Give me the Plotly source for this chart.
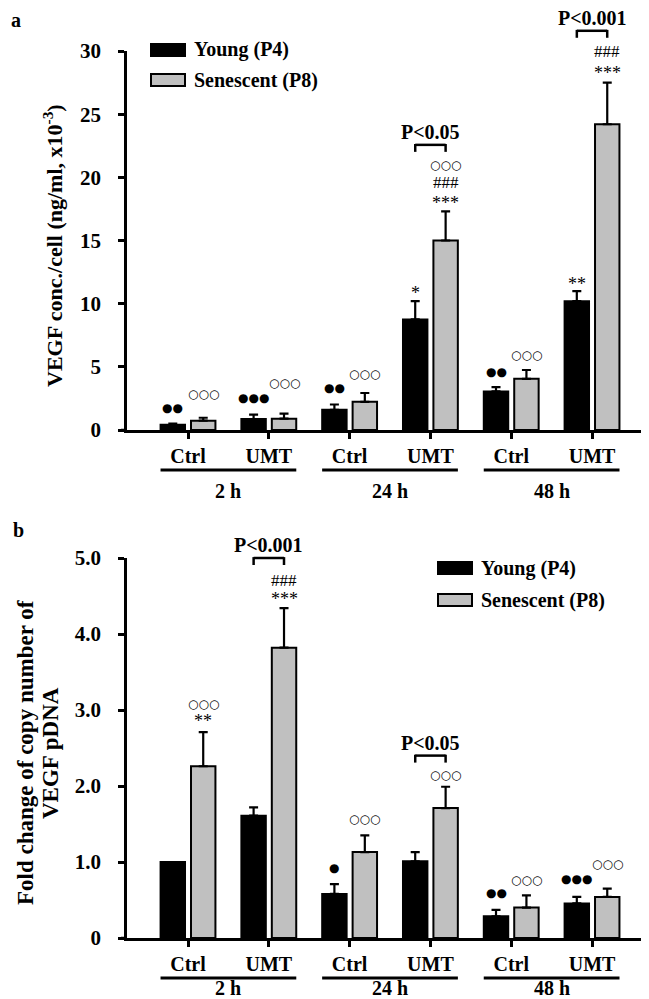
import plotly.graph_objects as go

# ---------------- data ----------------
categories = ["Ctrl", "UMT", "Ctrl", "UMT", "Ctrl", "UMT"]
time_groups = ["2 h", "24 h", "48 h"]
series_names = ["Young (P4)", "Senescent (P8)"]

vegf_young = [0.42, 0.87, 1.60, 8.75, 3.05, 10.2]
vegf_young_err = [0.08, 0.34, 0.42, 1.45, 0.35, 0.80]
vegf_sen = [0.74, 0.90, 2.23, 15.0, 4.05, 24.2]
vegf_sen_err = [0.23, 0.40, 0.70, 2.30, 0.70, 3.30]

pdna_young = [1.00, 1.61, 0.58, 1.01, 0.285, 0.455]
pdna_young_err = [0.0, 0.11, 0.13, 0.12, 0.085, 0.085]
pdna_sen = [2.26, 3.82, 1.13, 1.71, 0.40, 0.54]
pdna_sen_err = [0.45, 0.52, 0.22, 0.28, 0.16, 0.11]

# significance labels: (category index, series 0/1, text, y level in data units)
vegf_marks = [
    (0, 0, "●●", 1.77), (0, 1, "○○○", 2.82),
    (1, 0, "●●●", 2.50), (1, 1, "○○○", 3.69),
    (2, 0, "●●", 3.35), (2, 1, "○○○", 4.41),
    (3, 0, "*", 11.1), (3, 1, "***", 18.2), (3, 1, "###", 19.56), (3, 1, "○○○", 20.98),
    (4, 0, "●●", 4.59), (4, 1, "○○○", 5.91),
    (5, 0, "**", 11.8), (5, 1, "***", 28.5), (5, 1, "###", 29.93),
]
vegf_brackets = [(3, "P<0.05", 22.57), (5, "P<0.001", 31.6)]

pdna_marks = [
    (0, 1, "**", 2.89), (0, 1, "○○○", 3.08),
    (1, 1, "***", 4.50), (1, 1, "###", 4.70),
    (2, 0, "●", 0.92), (2, 1, "○○○", 1.56),
    (3, 1, "○○○", 2.15),
    (4, 0, "●●", 0.59), (4, 1, "○○○", 0.76),
    (5, 0, "●●●", 0.78), (5, 1, "○○○", 0.97),
]
pdna_brackets = [(1, "P<0.001", 5.0), (3, "P<0.05", 2.40)]

# ---------------- layout geometry ----------------
W, H = 649, 999
ML, MR, MT, MB = 119, 3, 43, 69
PW = W - ML - MR
PH = H - MT - MB
X_RANGE = [-0.755, 5.767]
TOP_Y0PX, BOT_Y1PX = 422, 550          # pixel rows of the top-panel baseline / bottom-panel top
TOP_DOM = [(H - MB - TOP_Y0PX) / PH, 1.0]
BOT_DOM = [0.0, (H - MB - BOT_Y1PX) / PH]
TOP_MAX, BOT_MAX = 30, 5

def px_x(px):
    return (px - ML) / PW

def px_y(py):
    return (H - MB - py) / PH

def cat_x(c):
    return (c - X_RANGE[0]) / (X_RANGE[1] - X_RANGE[0])

def val_y(v, dom, vmax):
    return dom[0] + (dom[1] - dom[0]) * v / vmax

BLACK = "#000000"
GRAY = "#c0c0c0"
FONT = "Liberation Serif"
OFF = 0.188   # bar centre offset from category centre (category units)

fig = go.Figure()
xs = list(range(len(categories)))

def add_bars(vals, errs, color, name, xa, ya):
    fig.add_trace(go.Bar(
        x=xs, y=vals, name=name, xaxis=xa, yaxis=ya, showlegend=False,
        marker=dict(color=color, line=dict(color=BLACK, width=2)),
        error_y=dict(type="data", array=errs, arrayminus=[0] * len(errs),
                     symmetric=False, color=BLACK, thickness=2.2, width=4.5),
    ))

add_bars(vegf_young, vegf_young_err, BLACK, series_names[0], "x", "y")
add_bars(vegf_sen, vegf_sen_err, GRAY, series_names[1], "x", "y")
add_bars(pdna_young, pdna_young_err, BLACK, series_names[0], "x2", "y2")
add_bars(pdna_sen, pdna_sen_err, GRAY, series_names[1], "x2", "y2")

axis_common = dict(showline=True, linecolor=BLACK, linewidth=2.5, ticks="outside",
                   tickcolor=BLACK, tickwidth=2.5, showgrid=False, zeroline=False)
xfont = dict(family=FONT, size=20, color=BLACK, weight="bold")
yfont = dict(family=FONT, size=21, color=BLACK, weight="bold")

fig.update_layout(
    width=W, height=H, margin=dict(l=ML, r=MR, t=MT, b=MB),
    paper_bgcolor="white", plot_bgcolor="white",
    barmode="group", bargap=0.247, bargroupgap=0.197,
    xaxis=dict(domain=[0, 1], anchor="y", range=X_RANGE, tickvals=xs, ticktext=categories,
               ticklen=6, tickfont=xfont, **axis_common),
    yaxis=dict(domain=TOP_DOM, anchor="x", range=[0, TOP_MAX], tickvals=[0, 5, 10, 15, 20, 25, 30],
               ticklen=6, ticklabelstandoff=13, tickfont=yfont, **axis_common),
    xaxis2=dict(domain=[0, 1], anchor="y2", range=X_RANGE, tickvals=xs, ticktext=categories,
                ticklen=6, tickfont=xfont, **axis_common),
    yaxis2=dict(domain=BOT_DOM, anchor="x2", range=[0, BOT_MAX], tickvals=[0, 1, 2, 3, 4, 5],
                ticktext=["0", "1.0", "2.0", "3.0", "4.0", "5.0"],
                ticklen=6, ticklabelstandoff=13, tickfont=yfont, **axis_common),
)

shapes = []
annots = []

def line(x0, y0, x1, y1, w=2.5):
    shapes.append(dict(type="line", xref="paper", yref="paper", x0=x0, y0=y0, x1=x1, y1=y1,
                       line=dict(color=BLACK, width=w)))

def text(x, y, s, size=20, bold=True, xanchor="center", yanchor="middle", angle=0, yshift=0,
         family=FONT):
    annots.append(dict(xref="paper", yref="paper", x=x, y=y, text=s, showarrow=False,
                       xanchor=xanchor, yanchor=yanchor, textangle=angle, yshift=yshift,
                       borderpad=0,
                       font=dict(family=family, size=size, color=BLACK,
                                 weight="bold" if bold else "normal")))

def panel_decor(dom, vmax, axis_px, label_gap, marks, brackets):
    # x-axis extends slightly left of the y-axis
    line(px_x(113), dom[0], px_x(119), dom[0])
    # group lines and labels
    for g, lab in enumerate(time_groups):
        c = 2 * g + 0.5
        line(cat_x(c - 0.84), px_y(axis_px + 40), cat_x(c + 0.84), px_y(axis_px + 40), w=2.8)
        text(cat_x(c), px_y(axis_px + label_gap), lab)
    for c, s, t, v in marks:
        x = cat_x(c + (OFF if s else -OFF))
        y = val_y(v, dom, vmax)
        if t[0] == "●":
            text(x, y, t, size=12, bold=False, family="DejaVu Sans")
        elif t[0] == "○":
            text(x, y, t, size=12, bold=True, family="DejaVu Sans")
        elif t[0] == "*":
            text(x, y, t, size=18, bold=False, yshift=-3)
        else:
            text(x, y, t, size=17, bold=False)
    for c, lab, v in brackets:
        x0, x1 = cat_x(c - OFF), cat_x(c + OFF)
        y = val_y(v, dom, vmax)
        leg = 7 / PH
        line(x0, y, x1, y)
        line(x0, y + 0.001, x0, y - leg)
        line(x1, y + 0.001, x1, y - leg)
        text((x0 + x1) / 2, y + 13 / PH, lab)

panel_decor(TOP_DOM, TOP_MAX, 422, 61, vegf_marks, vegf_brackets)
panel_decor(BOT_DOM, BOT_MAX, 930, 50, pdna_marks, pdna_brackets)

def legend(x_px, y1_px, y2_px):
    for i, (yc, col) in enumerate([(y1_px, BLACK), (y2_px, GRAY)]):
        shapes.append(dict(type="rect", xref="paper", yref="paper",
                           x0=px_x(x_px), x1=px_x(x_px + 34), y0=px_y(yc - 6), y1=px_y(yc + 6),
                           fillcolor=col, line=dict(color=BLACK, width=2)))
        text(px_x(x_px + 42), px_y(yc), series_names[i], xanchor="left")

legend(143, 42, 72)
legend(430, 560, 592)

# panel letters
text(px_x(8), px_y(12), "a")
text(px_x(10), px_y(522), "b")

# axis titles
text(px_x(45), px_y(238), "VEGF conc./cell (ng/ml, x10<sup>-3</sup>)", size=22, angle=-90)
text(px_x(17), px_y(745), "Fold change of copy number of", size=23, angle=-90)
text(px_x(42), px_y(745), "VEGF pDNA", size=23, angle=-90)

fig.update_layout(shapes=shapes, annotations=annots)
fig.write_html("out.html")
